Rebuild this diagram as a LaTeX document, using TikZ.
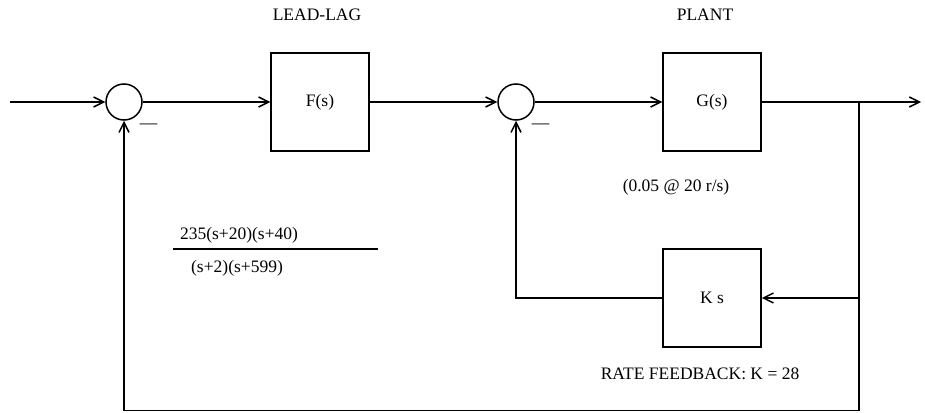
\documentclass[tikz,border=0pt]{standalone}
\usepackage{fontspec}
\setmainfont{Liberation Serif}
\usetikzlibrary{arrows.meta}
\begin{document}
\begin{tikzpicture}[x=1pt,y=-1pt,
  line width=1.5pt,
  every node/.style={font=\fontsize{17.5}{20}\selectfont},
  blk/.style={draw,rectangle,minimum width=98pt,minimum height=98pt,inner sep=0pt},
  sumj/.style={draw,circle,minimum size=36pt,inner sep=0pt},
  lbl/.style={inner sep=0pt},
  arr/.style={-{Straight Barb[length=10pt,width=10pt,line width=1.5pt]}}]
\useasboundingbox (0,0) rectangle (925,412);
\coordinate (in) at (10,102);
\node[sumj] (s1) at (124,102) {};
\node[blk] (F) at (320,102) {F(s)};
\node[sumj] (s2) at (516,102) {};
\node[blk] (G) at (712,102) {G(s)};
\coordinate (br) at (859,102);
\coordinate (out) at (921,102);
\node[blk] (K) at (712,298) {K s};
\coordinate (br2) at (859,298);
\coordinate (bR) at (859,410.5);
\coordinate (bL) at (124,410.5);
\draw[arr] (in) -- (s1.west);
\draw[arr] (s1.east) -- (F.west);
\draw[arr] (F.east) -- (s2.west);
\draw[arr] (s2.east) -- (G.west);
\draw[arr] (G.east) -- (out);
\draw[arr] (br) -- (br2) -- (K.east);
\draw[arr] (K.west) -| (s2.south);
\draw[arr] (br2) -- (bR) -- (bL) -- (s1.south);
\node[lbl] (m1) at (148.5,126) {—};
\node[lbl] (m2) at (540.5,126) {—};
\node[lbl] (ll) at (317,15) {LEAD-LAG};
\node[lbl] (pl) at (705,15) {PLANT};
\node[lbl] (gn) at (676,187) {(0.05 @ 20 r/s)};
\node[lbl] (rf) at (700,374) {RATE FEEDBACK: K = 28};
\node[lbl] (num) at (239,235) {235(s+20)(s+40)};
\node[lbl] (den) at (237,268) {(s+2)(s+599)};
\draw (173,249) -- (378,249);
\end{tikzpicture}
\end{document}
